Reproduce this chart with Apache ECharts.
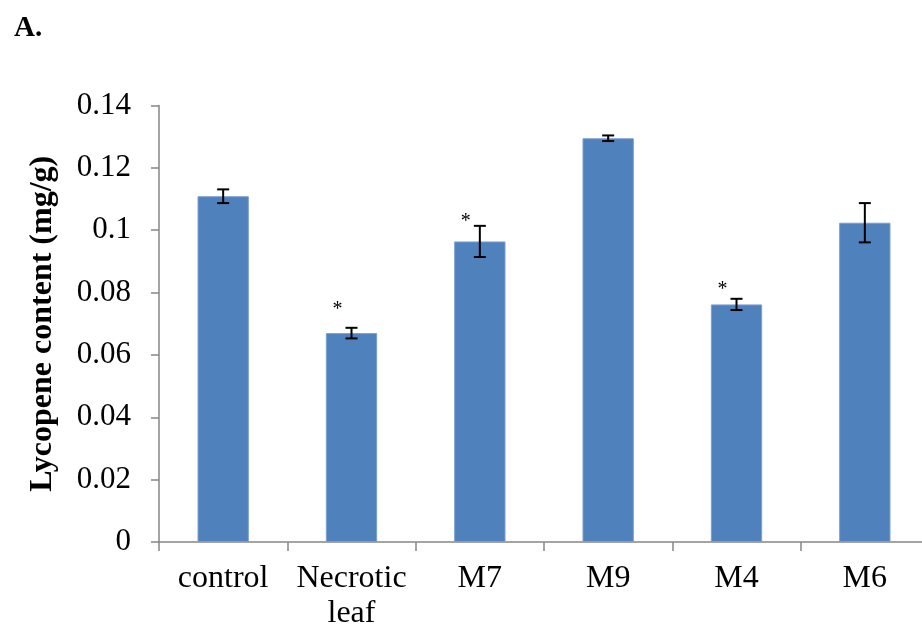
<!DOCTYPE html>
<html>
<head>
<meta charset="utf-8">
<script src="https://cdn.jsdelivr.net/npm/echarts@6/dist/echarts.min.js"></script>
<style>html,body{margin:0;padding:0;background:#fff}#c{width:922px;height:633px}</style>
</head>
<body>
<div id="c"></div>
<script>
const categories = ['control', 'Necrotic\nleaf', 'M7', 'M9', 'M4', 'M6'];
const values = [0.1109, 0.0670, 0.0964, 0.1295, 0.0762, 0.1024];
const errors = [0.0022, 0.0017, 0.0050, 0.0009, 0.0018, 0.0063];
const starLevels = [null, 0.0754, 0.1036, null, 0.0818, null];
const yTicks = { min: 0, max: 0.14, interval: 0.02 };

const errData = values.map((v, i) => [i, v - errors[i], v + errors[i]]);
const starData = starLevels.map((s, i) => s == null ? null : [i, s]).filter(d => d);

const chart = echarts.init(document.getElementById('c'), null, { renderer: 'canvas' });
chart.setOption({
  animation: false,
  backgroundColor: '#ffffff',
  title: {
    text: 'A.', left: 9, top: 9,
    textStyle: { fontFamily: 'Liberation Serif', fontWeight: 'bold', fontSize: 29, color: '#000' }
  },
  grid: { left: 159, width: 770, top: 105.5, bottom: 91, containLabel: false, outerBoundsMode: 'none' },
  xAxis: {
    type: 'category',
    data: categories,
    axisLine: { lineStyle: { color: '#868686', width: 1.5 } },
    axisTick: { show: true, length: 9, alignWithLabel: false, lineStyle: { color: '#868686', width: 1.5 } },
    axisLabel: {
      fontFamily: 'Liberation Serif', fontSize: 32, color: '#000', margin: 19, lineHeight: 35, interval: 0
    },
    splitLine: { show: false }
  },
  yAxis: {
    type: 'value',
    min: yTicks.min, max: yTicks.max, interval: yTicks.interval,
    name: 'Lycopene content (mg/g)',
    nameLocation: 'middle',
    nameRotate: 90,
    nameGap: 100,
    nameTextStyle: { fontFamily: 'Liberation Serif', fontWeight: 'bold', fontSize: 32, color: '#000' },
    axisLine: { show: true, lineStyle: { color: '#868686', width: 1.5 } },
    axisTick: { show: true, length: 8, inside: false, lineStyle: { color: '#868686', width: 1.5 } },
    axisLabel: { fontFamily: 'Liberation Serif', fontSize: 31, color: '#000', margin: 28 },
    splitLine: { show: false }
  },
  series: [
    {
      type: 'bar',
      data: values,
      barWidth: '40%',
      itemStyle: { color: '#4F81BD', borderColor: '#7b9fcf', borderWidth: 1 }
    },
    {
      type: 'custom',
      data: errData,
      z: 10,
      renderItem: function (params, api) {
        const x = api.value(0);
        const lo = api.coord([x, api.value(1)]);
        const hi = api.coord([x, api.value(2)]);
        const hw = 6;
        const st = { stroke: '#000', lineWidth: 2 };
        return {
          type: 'group',
          children: [
            { type: 'line', shape: { x1: lo[0], y1: lo[1], x2: hi[0], y2: hi[1] }, style: st },
            { type: 'line', shape: { x1: lo[0] - hw, y1: lo[1], x2: lo[0] + hw, y2: lo[1] }, style: st },
            { type: 'line', shape: { x1: hi[0] - hw, y1: hi[1], x2: hi[0] + hw, y2: hi[1] }, style: st }
          ]
        };
      }
    },
    {
      type: 'custom',
      data: starData,
      z: 10,
      renderItem: function (params, api) {
        const p = api.coord([api.value(0), api.value(1)]);
        return {
          type: 'text',
          x: p[0] - 14, y: p[1] + 3,
          style: {
            text: '*', fontFamily: 'Liberation Serif', fontSize: 20,
            fill: '#000', align: 'center', verticalAlign: 'middle'
          }
        };
      }
    }
  ]
});
</script>
</body>
</html>
